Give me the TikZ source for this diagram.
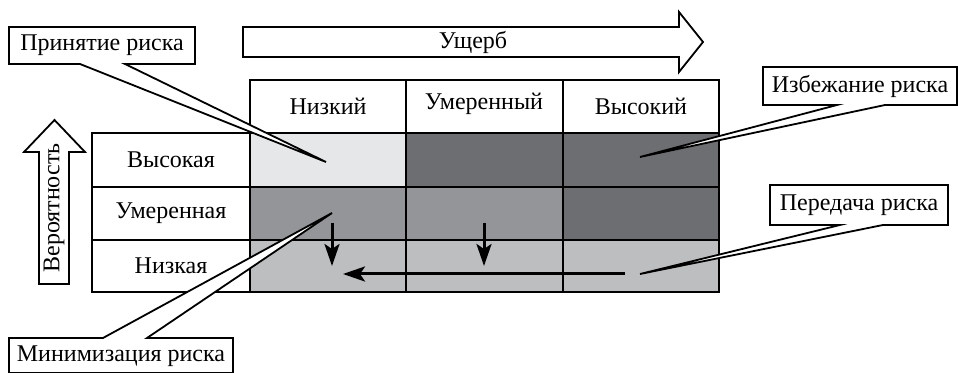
\documentclass[tikz,border=0pt]{standalone}
\usepackage{fontspec}
\setmainfont{Liberation Serif}
\newfontfamily\tabfont{Liberation Serif}
\usetikzlibrary{arrows.meta}

\definecolor{cellLight}{HTML}{E6E7E8}
\definecolor{cellMid}{HTML}{939598}
\definecolor{cellLow}{HTML}{BCBEC0}
\definecolor{cellDark}{HTML}{6D6E71}

\tikzset{
    txt/.style={inner sep=0pt, font=\tabfont\fontsize{12}{14}\selectfont},
    outline/.style={draw, line width=0.9pt, fill=white, line join=miter},
    shift arrow/.style={line width=1.5pt, -{Stealth[length=11pt,width=7.5pt,inset=2.5pt]}}
}

\begin{document}
\begin{tikzpicture}[x=0.5pt,y=-0.5pt]
        \useasboundingbox (0,0) rectangle (958,373);

        % cells
        \fill[cellLight] (250,133) rectangle (406,187);
        \fill[cellDark] (406,133) rectangle (719,187);
        \fill[cellMid] (250,187) rectangle (563,240);
        \fill[cellDark] (563,187) rectangle (719,240);
        \fill[cellLow] (250,240) rectangle (719,292);

        % grid
        \draw[line width=1pt] (250,80) rectangle (719,292);
        \draw[line width=1pt] (92,133) rectangle (250,292);
        \draw[line width=1pt] (406,80) -- (406,292);
        \draw[line width=1pt] (563,80) -- (563,292);
        \draw[line width=1pt] (92,133) -- (719,133);
        \draw[line width=1pt] (92,187) -- (719,187);
        \draw[line width=1pt] (92,240) -- (719,240);

        \node[txt] (hLow) at (328,106) {Низкий};
        \node[txt] (hMid) at (484,104) {Умеренный};
        \node[txt] (hHigh) at (641,106) {Высокий};
        \node[txt] (rHigh) at (171,160) {Высокая};
        \node[txt] (rMid) at (171,213) {Умеренная};
        \node[txt] (rLow) at (171,266) {Низкая};

        % big arrows
        \draw[outline] (243,27) -- (679,27) -- (679,12) -- (703,42) -- (679,72) -- (679,57) -- (243,57) -- cycle;
        \node[txt] (damage) at (473,42) {Ущерб};
        \draw[outline] (39,284) -- (39,152) -- (24,152) -- (54.5,120) -- (85,152) -- (69,152) -- (69,284) -- cycle;
        \node[txt, rotate=90] (prob) at (54,208) {Вероятность};

        % shifts inside the table
        \coordinate (d1s) at (332,223);
        \coordinate (d1e) at (332,266);
        \coordinate (d2s) at (484,223);
        \coordinate (d2e) at (484,266);
        \coordinate (hs) at (625,274);
        \coordinate (he) at (343,274);
        \draw[shift arrow] (d1s) -- (d1e);
        \draw[shift arrow] (d2s) -- (d2e);
        \draw[shift arrow] (hs) -- (he);

        % callouts
        \coordinate (acceptTip) at (326,162);
        \coordinate (avoidTip) at (640,157);
        \coordinate (transferTip) at (640,274);
        \coordinate (reduceTip) at (332,213);

        \draw[outline] (9,27) -- (195,27) -- (195,64) -- (125,64) -- (acceptTip) -- (80,64) -- (9,64) -- cycle;
        \node[txt] (accept) at (102,45.5) {Принятие риска};

        \draw[outline] (763,67) -- (957,67) -- (957,105) -- (885,105) -- (avoidTip) -- (837,105) -- (763,105) -- cycle;
        \node[txt] (avoid) at (860,86) {Избежание риска};

        \draw[outline] (770,185) -- (948,185) -- (948,225) -- (883,225) -- (transferTip) -- (840,225) -- (770,225) -- cycle;
        \node[txt] (transfer) at (859,205) {Передача риска};

        \draw[outline] (9,373) -- (9,338) -- (103,338) -- (reduceTip) -- (147,338) -- (233,338) -- (233,373) -- cycle;
        \node[txt] (reduce) at (121,356) {Минимизация риска};
    \end{tikzpicture}
\end{document}
